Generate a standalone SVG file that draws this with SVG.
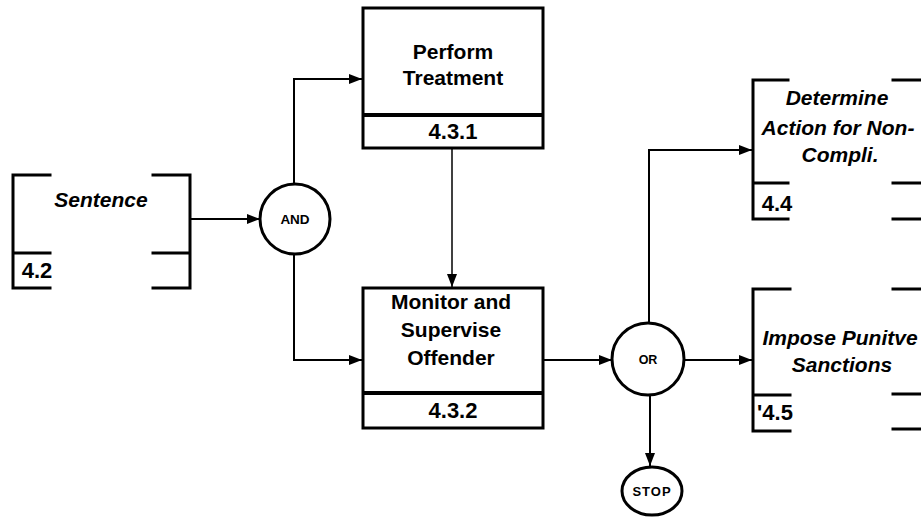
<svg xmlns="http://www.w3.org/2000/svg" width="921" height="518" viewBox="0 0 921 518">
<defs>
<marker id="ah" markerUnits="userSpaceOnUse" markerWidth="14" markerHeight="12" refX="13" refY="6" orient="auto">
<path d="M0,1 L13,6 L0,11 Z" fill="#000"/>
</marker>
<style>
.b{fill:none;stroke:#000;stroke-width:3;stroke-linecap:square}
.c{fill:none;stroke:#000;stroke-width:2}
.t{font-family:"Liberation Sans",Arial,sans-serif;font-weight:bold;fill:#000;text-anchor:middle}
.i{font-style:italic}
.p{font-size:21px}
.l{font-size:22px}
</style>
</defs>
<rect width="921" height="518" fill="#fff"/>
<g id="connectors">
<line class="c" x1="190" y1="219" x2="260" y2="219" marker-end="url(#ah)"/>
<polyline class="c" points="294,183 294,79 362,79" marker-end="url(#ah)"/>
<polyline class="c" points="294,255 294,360 362,360" marker-end="url(#ah)"/>
<line x1="452" y1="148" x2="452" y2="287" stroke="#000" stroke-width="1.5" marker-end="url(#ah)"/>
<line class="c" x1="543" y1="360" x2="612" y2="360" marker-end="url(#ah)"/>
<line class="c" x1="684" y1="360" x2="752" y2="360" marker-end="url(#ah)"/>
<polyline class="c" points="649,323 649,150 752,150" marker-end="url(#ah)"/>
<line class="c" x1="650" y1="395" x2="650" y2="466" marker-end="url(#ah)"/>
</g>
<g id="sentence">
<path class="b" d="M50,175 H13 V288 H50 M13,253 H50 M153,175 H190 V288 H153 M153,253 H190"/>
<text class="t i p" x="101" y="207">Sentence</text>
<text class="t l" x="37" y="278">4.2</text>
</g>
<g id="and">
<circle class="b" cx="295" cy="219" r="35"/>
<text class="t" x="295" y="224" font-size="13.5">AND</text>
</g>
<g id="perform">
<rect class="b" x="363" y="8" width="180" height="140"/>
<line x1="363" y1="115" x2="543" y2="115" stroke="#000" stroke-width="4"/>
<text class="t p" x="453" y="59">Perform</text>
<text class="t p" x="453" y="85">Treatment</text>
<text class="t l" x="453" y="139">4.3.1</text>
</g>
<g id="monitor">
<rect class="b" x="363" y="288" width="180" height="140"/>
<line x1="363" y1="393" x2="543" y2="393" stroke="#000" stroke-width="4"/>
<text class="t p" x="451" y="309">Monitor and</text>
<text class="t p" x="451" y="337">Supervise</text>
<text class="t p" x="451" y="365">Offender</text>
<text class="t l" x="453" y="418">4.3.2</text>
</g>
<g id="or">
<circle class="b" cx="648" cy="359" r="36"/>
<text class="t" x="648" y="364" font-size="12.5">OR</text>
</g>
<g id="stop">
<ellipse class="b" cx="652" cy="491" rx="30" ry="24"/>
<text class="t" x="652" y="496" font-size="13" letter-spacing="1">STOP</text>
</g>
<g id="determine">
<path class="b" d="M788,80 H753 V219 H788 M753,183 H788 M893,80 H921 M893,183 H921 M893,219 H921"/>
<text class="t i p" x="837" y="105">Determine</text>
<text class="t i p" x="838" y="135">Action for Non-</text>
<text class="t i p" x="840" y="162">Compli.</text>
<text class="t l" x="777" y="211">4.4</text>
</g>
<g id="impose">
<path class="b" d="M790,289 H753 V431 H790 M753,395 H790 M893,289 H921 M893,394 H921 M893,429 H921"/>
<text class="t i p" x="840" y="345">Impose Punitve</text>
<text class="t i p" x="842" y="372">Sanctions</text>
<text class="t l" x="775" y="420">'4.5</text>
</g>
</svg>
